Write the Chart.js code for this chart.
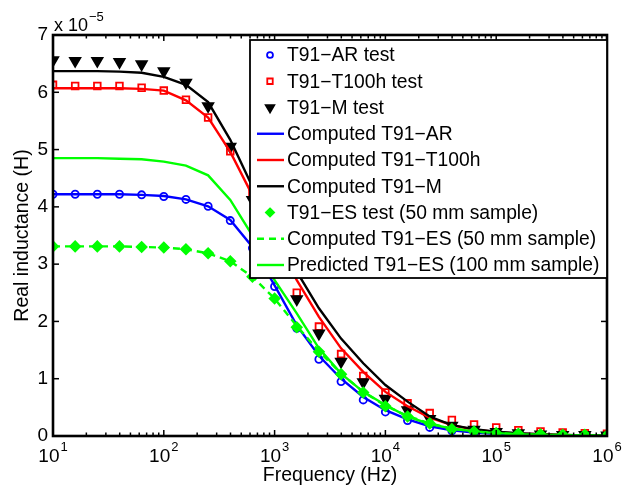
<!DOCTYPE html>
<html>
<head>
<meta charset="utf-8">
<script src="https://cdn.jsdelivr.net/npm/chart.js@4.4.0/dist/chart.umd.min.js"></script>
<style>
  html, body { margin: 0; padding: 0; background: #fff; }
  canvas { display: block; }
</style>
</head>
<body>
<canvas id="chart" width="635" height="487"></canvas>
<script>
// frequencies (Hz), 5 points per decade
var freq = [10, 15.85, 25.12, 39.81, 63.1, 100, 158.5, 251.2, 398.1, 631, 1000, 1585, 2512, 3981, 6310,
  10000, 15849, 25119, 39811, 63096, 100000, 158489, 251189, 398107, 630957, 1000000];

// real inductance, in units of 1e-5 H
var arTest = [4.22, 4.22, 4.22, 4.22, 4.21, 4.18, 4.13, 4.01, 3.76, 3.28, 2.61, 1.88, 1.34, 0.95, 0.63,
  0.42, 0.27, 0.15, 0.09, 0.06, 0.04, 0.03, 0.02, 0.02, 0.01, 0.01];
var t100Test = [6.13, 6.11, 6.11, 6.11, 6.08, 6.03, 5.87, 5.56, 4.97, 4.25, 3.40, 2.50, 1.91, 1.43, 1.05,
  0.76, 0.57, 0.40, 0.28, 0.20, 0.15, 0.10, 0.08, 0.06, 0.05, 0.04];
var mTest = [6.56, 6.55, 6.55, 6.53, 6.49, 6.37, 6.17, 5.76, 5.05, 4.12, 3.25, 2.39, 1.79, 1.30, 0.94,
  0.65, 0.45, 0.30, 0.18, 0.11, 0.07, 0.05, 0.03, 0.02, 0.02, 0.01];
var arComp = [4.22, 4.22, 4.22, 4.22, 4.21, 4.19, 4.13, 4.01, 3.77, 3.30, 2.63, 1.93, 1.40, 1.00, 0.68,
  0.45, 0.29, 0.17, 0.10, 0.06, 0.04, 0.03, 0.02, 0.01, 0.01, 0.01];
var t100Comp = [6.07, 6.07, 6.07, 6.07, 6.06, 6.03, 5.86, 5.56, 4.96, 4.20, 3.45, 2.72, 2.08, 1.53, 1.12,
  0.77, 0.52, 0.32, 0.19, 0.11, 0.07, 0.04, 0.03, 0.02, 0.01, 0.01];
var mComp = [6.37, 6.37, 6.37, 6.36, 6.34, 6.27, 6.13, 5.83, 5.17, 4.35, 3.62, 2.87, 2.23, 1.70, 1.27,
  0.89, 0.60, 0.34, 0.19, 0.12, 0.075, 0.05, 0.03, 0.02, 0.01, 0.01];
var esTest = [3.31, 3.31, 3.31, 3.31, 3.30, 3.29, 3.26, 3.19, 3.05, 2.78, 2.40, 1.90, 1.47, 1.08, 0.76,
  0.52, 0.34, 0.22, 0.12, 0.08, 0.05, 0.04, 0.03, 0.02, 0.02, 0.01];
var esComp = [3.31, 3.31, 3.31, 3.31, 3.30, 3.29, 3.26, 3.19, 3.05, 2.78, 2.40, 1.92, 1.48, 1.09, 0.77,
  0.53, 0.35, 0.22, 0.13, 0.08, 0.05, 0.03, 0.02, 0.02, 0.01, 0.01];
var esPred = [4.85, 4.85, 4.85, 4.84, 4.83, 4.79, 4.72, 4.55, 4.12, 3.50, 2.72, 2.14, 1.53, 1.09, 0.77,
  0.54, 0.34, 0.21, 0.13, 0.08, 0.05, 0.03, 0.02, 0.02, 0.01, 0.01];

var xExponents = [1, 2, 3, 4, 5, 6];
var yTicks = [0, 1, 2, 3, 4, 5, 6, 7];

var FONT = '"Liberation Sans", Arial, Helvetica, sans-serif';
Chart.defaults.font.family = FONT;
Chart.defaults.color = '#000';

function pts(vals) {
  return vals.map(function (v, i) { return { x: freq[i], y: v }; });
}

function testSet(label, vals, color, style, radius, fill, rot) {
  return {
    label: label, data: pts(vals), showLine: false,
    borderColor: color, backgroundColor: fill,
    pointStyle: style, pointRadius: radius, pointBorderWidth: 1.8,
    pointRotation: rot || 0, pointHoverRadius: radius
  };
}
function lineSet(label, vals, color, dash) {
  return {
    label: label, data: pts(vals), showLine: true,
    borderColor: color, borderWidth: 2.4, borderDash: dash || [],
    pointRadius: 0, tension: 0
  };
}

var datasets = [
  testSet('T91\u2212AR test', arTest, '#0000ff', 'circle', 3.6, 'rgba(0,0,0,0)'),
  testSet('T91\u2212T100h test', t100Test, '#ff0000', 'rect', 4.7, 'rgba(0,0,0,0)'),
  testSet('T91\u2212M test', mTest, '#000000', 'triangle', 6, '#000000', 180),
  lineSet('Computed T91\u2212AR', arComp, '#0000ff'),
  lineSet('Computed T91\u2212T100h', t100Comp, '#ff0000'),
  lineSet('Computed T91\u2212M', mComp, '#000000'),
  testSet('T91\u2212ES test (50 mm sample)', esTest, '#00ff00', 'rectRot', 5, '#00ff00'),
  lineSet('Computed T91\u2212ES (50 mm sample)', esComp, '#00ff00', [7, 5]),
  lineSet('Predicted T91\u2212ES (100 mm sample)', esPred, '#00ff00')
];
// later series drawn on top, as in the original plot
datasets.forEach(function (d, i) { d.order = datasets.length - i; });

function legendMarker(ctx, ds, x, y) {
  ctx.save();
  ctx.strokeStyle = ds.borderColor;
  ctx.fillStyle = ds.backgroundColor;
  ctx.lineWidth = 1.8;
  var r = ds.pointRadius * 0.82;
  ctx.beginPath();
  if (ds.pointStyle === 'circle') {
    ctx.arc(x, y, r, 0, Math.PI * 2);
  } else if (ds.pointStyle === 'rect') {
    var s = r * Math.SQRT1_2;
    ctx.rect(x - s, y - s, 2 * s, 2 * s);
  } else if (ds.pointStyle === 'triangle') {
    ctx.moveTo(x, y + r);
    ctx.lineTo(x - r * 0.866, y - r * 0.5);
    ctx.lineTo(x + r * 0.866, y - r * 0.5);
    ctx.closePath();
  } else {
    ctx.moveTo(x, y - r); ctx.lineTo(x + r, y); ctx.lineTo(x, y + r); ctx.lineTo(x - r, y);
    ctx.closePath();
  }
  ctx.fill();
  ctx.stroke();
  ctx.restore();
}

var matlabAxes = {
  id: 'matlabAxes',
  afterDraw: function (chart) {
    var ctx = chart.ctx, a = chart.chartArea;
    var xs = chart.scales.x, ys = chart.scales.y;
    ctx.save();
    ctx.strokeStyle = '#000';
    ctx.lineWidth = 1.5;
    function seg(x1, y1, x2, y2) { ctx.beginPath(); ctx.moveTo(x1, y1); ctx.lineTo(x2, y2); ctx.stroke(); }

    // y ticks, inward on both sides
    yTicks.forEach(function (v) {
      var py = ys.getPixelForValue(v);
      seg(a.left, py, a.left + 6, py);
      seg(a.right, py, a.right - 6, py);
    });
    // x ticks (decades and minor), inward on bottom and top
    xExponents.forEach(function (e) {
      for (var m = 1; m <= 9; m++) {
        var v = m * Math.pow(10, e);
        if (v > xs.max) break;
        var px = xs.getPixelForValue(v);
        var len = m === 1 ? 6 : 3.5;
        seg(px, a.bottom, px, a.bottom - len);
        seg(px, a.top, px, a.top + len);
      }
    });
    // box
    ctx.lineWidth = 2.6;
    ctx.strokeRect(a.left, a.top, a.right - a.left, a.bottom - a.top);

    // x tick labels 10^n
    ctx.fillStyle = '#000';
    ctx.textBaseline = 'middle';
    ctx.textAlign = 'left';
    xExponents.forEach(function (e) {
      var px = xs.getPixelForValue(Math.pow(10, e));
      ctx.font = '19px ' + FONT;
      var w1 = ctx.measureText('10').width;
      ctx.font = '13px ' + FONT;
      var w2 = ctx.measureText(String(e)).width;
      var x0 = px - (w1 + w2 + 1) / 2;
      ctx.font = '19px ' + FONT;
      ctx.fillText('10', x0, a.bottom + 21);
      ctx.font = '13px ' + FONT;
      ctx.fillText(String(e), x0 + w1 + 1, a.bottom + 11);
    });

    // exponent label above the y axis
    ctx.font = '18px ' + FONT;
    var wx = ctx.measureText('x 10').width;
    ctx.fillText('x 10', a.left + 1, a.top - 9);
    ctx.font = '13px ' + FONT;
    ctx.fillText('\u22125', a.left + 2 + wx, a.top - 18);

    // legend box
    var lx = 250, ly = 40, lw = a.right - 250, lh = 238;
    ctx.fillStyle = '#fff';
    ctx.fillRect(lx, ly, lw, lh);
    ctx.lineWidth = 1.8;
    ctx.strokeRect(lx, ly, lw, lh);
    chart.data.datasets.forEach(function (ds, i) {
      var cy = ly + 15 + i * 26.25;
      if (ds.showLine) {
        ctx.save();
        ctx.strokeStyle = ds.borderColor;
        ctx.lineWidth = 2.4;
        ctx.setLineDash(ds.borderDash);
        seg(lx + 7, cy, lx + 34, cy);
        ctx.restore();
      } else {
        legendMarker(ctx, ds, lx + 20, cy);
      }
      ctx.fillStyle = '#000';
      ctx.font = '19.3px ' + FONT;
      ctx.fillText(ds.label, lx + 37, cy + 1);
    });
    ctx.restore();
  }
};

new Chart('chart', {
  type: 'scatter',
  data: { datasets: datasets },
  plugins: [matlabAxes],
  options: {
    responsive: false,
    animation: false,
    devicePixelRatio: 1,
    layout: { padding: { left: 0, right: 28, top: 35, bottom: 0 } },
    plugins: { legend: { display: false }, tooltip: { enabled: false } },
    scales: {
      x: {
        type: 'logarithmic', min: 10, max: 1000000,
        grid: { display: false, drawTicks: false },
        border: { display: false },
        ticks: { display: false },
        title: { display: true, text: 'Frequency (Hz)', font: { size: 19.5 }, padding: { top: 0, bottom: 0 } },
        afterFit: function (s) { s.height = 51; }
      },
      y: {
        min: 0, max: 7,
        grid: { display: false, drawTicks: false },
        border: { display: false },
        ticks: { stepSize: 1, font: { size: 19 }, padding: 5 },
        title: { display: true, text: 'Real inductance (H)', font: { size: 19.5 }, padding: { top: 11, bottom: 0 } },
        afterFit: function (s) { s.width = 53; }
      }
    }
  }
});
</script>
</body>
</html>
